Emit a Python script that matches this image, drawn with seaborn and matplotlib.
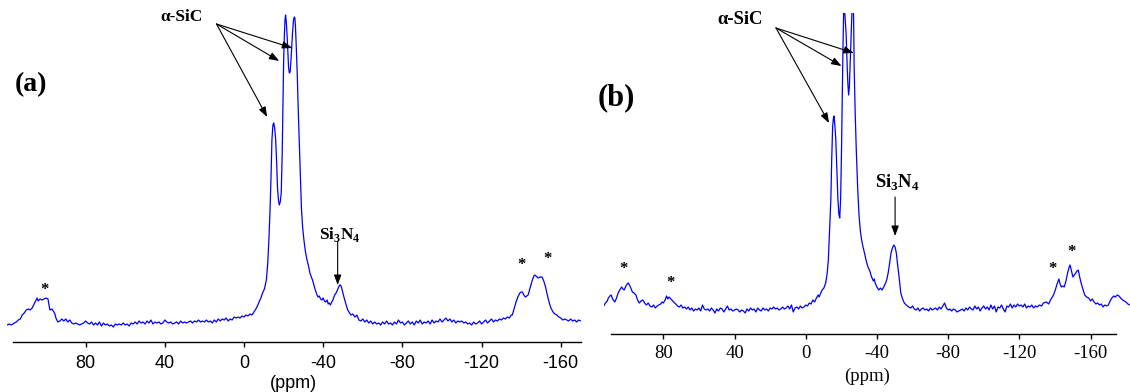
import pandas as pd
import seaborn as sns
import matplotlib.pyplot as plt

# spectrum (a): (ppm, intensity), baseline = 0
spec_a = [
    (119.7, -2), (118.5, -1), (117.5, -2), (116, 0), (115, 1), (114, 3), (113, 4), (112, 8),
    (111, 10), (110, 13), (109, 14), (108, 13), (107, 15), (106, 19), (105, 23), (104.5, 25),
    (104, 22), (103, 24), (102, 23), (101, 24), (100, 25), (99, 24), (98.5, 18), (98, 13),
    (97, 14), (96, 11), (95.5, 9), (95, 5), (94, 1), (93, 2), (92, 4), (91, 2), (90, 4),
    (89, 1), (88, 3), (87, 0), (86, -1), (85, 0), (84, -1), (83, -2), (82, -1), (81, 0),
    (80, 2), (79, 0), (78, -1), (77, 1), (76, -2), (75, 0), (74, -2), (73, 1), (72, -3),
    (71, 0), (70, -2), (69, -1), (68, -3), (67, -2), (66, -4), (65, -1), (64, -2), (63, -1),
    (62, -2), (61, 0), (60, -2), (59, -1), (58, -3), (57, 0), (56, -1), (55, 1), (54, -1),
    (53, 2), (52, 0), (51, 1), (50, -1), (49, 2), (48, 0), (47, 3), (46, -1), (45, 1),
    (44, 0), (43, 1), (42, -1), (41, 0), (40, 3), (39, 1), (38, 0), (37, 1), (36, -1),
    (35, 0), (34, 1), (33, -1), (32, 2), (31, 0), (30, 1), (29, 0), (28, 1), (27, 2),
    (26, 0), (25, 2), (24, 1), (23, 3), (22, 1), (21, 2), (20, 1), (19, 3), (18, 1),
    (17, 2), (16, 0), (15, 3), (14, 1), (13, 4), (12, 2), (11, 4), (10, 3), (9, 5), (8, 2),
    (7, 4), (6, 3), (5, 6), (4, 5), (3, 6), (2, 5), (1, 7), (0, 6), (-1, 8), (-2, 7),
    (-3, 9), (-4, 8), (-5, 11), (-6, 14), (-7, 18), (-7.6, 21), (-8.5, 25), (-9.4, 30),
    (-10.3, 34), (-11.3, 43), (-12, 60), (-12.6, 85), (-13.2, 116), (-13.7, 150),
    (-14.1, 183), (-14.6, 198), (-15, 200), (-15.5, 195), (-16, 183), (-16.5, 160),
    (-16.9, 136), (-17.4, 123), (-17.8, 118), (-18.3, 121), (-18.8, 130), (-19.3, 170),
    (-19.7, 223), (-20, 260), (-20.3, 283), (-20.7, 303), (-21, 308), (-21.4, 300),
    (-21.8, 286), (-22.2, 268), (-22.5, 256), (-22.9, 250), (-23.3, 251), (-23.7, 262),
    (-24, 273), (-24.5, 290), (-25, 303), (-25.4, 306), (-25.7, 305), (-26, 296),
    (-26.4, 276), (-26.9, 248), (-27.4, 213), (-28, 175), (-28.5, 140), (-29, 115),
    (-29.6, 96), (-30.2, 84), (-30.9, 73), (-31.5, 66), (-32.2, 60), (-32.8, 55),
    (-33.3, 50), (-34, 46), (-34.6, 43), (-35.3, 38), (-36, 33), (-36.7, 29), (-37.4, 26),
    (-38, 27), (-38.7, 24), (-39.3, 23), (-40, 25), (-40.6, 22), (-41.2, 21), (-42, 23),
    (-42.5, 19), (-43, 20), (-43.7, 18), (-44.3, 21), (-44.9, 23), (-45.4, 26),
    (-45.8, 28), (-46.5, 30), (-47.2, 33), (-47.8, 36), (-48.3, 38), (-48.7, 38),
    (-49.2, 36), (-49.6, 33), (-50.2, 28), (-50.9, 23), (-51.6, 18), (-52.4, 13),
    (-53, 11), (-54, 8), (-55, 9), (-56, 6), (-57, 8), (-58, 3), (-59, 2), (-60, 4),
    (-61, 1), (-62, 3), (-63, 0), (-64, 2), (-65, -1), (-66, 1), (-67, -1), (-68, 0),
    (-69, -2), (-70, 1), (-71, -1), (-72, 2), (-73, -1), (-74, 0), (-75, -2), (-76, 1),
    (-77, -1), (-78, 3), (-79, 0), (-80, 1), (-81, -2), (-82, 0), (-83, 2), (-84, -1),
    (-85, 1), (-86, -2), (-87, 2), (-88, 0), (-89, 3), (-90, -1), (-91, 1), (-92, 0),
    (-93, 2), (-94, -1), (-95, 3), (-96, 0), (-97, 2), (-98, 1), (-99, 4), (-100, 1),
    (-101, 3), (-102, 5), (-103, 2), (-104, 4), (-105, 1), (-106, 3), (-107, 0), (-108, 2),
    (-109, 1), (-110, 2), (-111, 0), (-112, 1), (-113, -1), (-114, 0), (-115, -2),
    (-116, 1), (-117, -1), (-118, 0), (-119, 2), (-120, -1), (-121, 1), (-122, 3),
    (-123, 0), (-124, 2), (-125, 4), (-126, 1), (-127, 3), (-128, 2), (-129, 4), (-130, 3),
    (-131, 5), (-132, 4), (-133, 6), (-134, 5), (-135, 8), (-135.5, 8), (-136.5, 15),
    (-137.4, 21), (-138.3, 26), (-139.3, 30), (-140, 31), (-140.6, 31), (-141.3, 28),
    (-142.1, 26), (-142.8, 27), (-143.5, 28), (-144.2, 33), (-144.9, 38), (-145.8, 44),
    (-146.7, 48), (-147.5, 47), (-148.6, 45), (-149.5, 46), (-150.5, 46), (-151.4, 42),
    (-152.3, 36), (-153.2, 28), (-154.2, 20), (-155, 15), (-156.1, 11), (-157, 9),
    (-158, 8), (-159, 6), (-160, 5), (-161, 3), (-162, 4), (-163, 3), (-164, 2), (-165, 4),
    (-166, 2), (-167, 3), (-168, 1), (-169, 3), (-170, 2),
]

# spectrum (b)
spec_b = [
    (113.5, 3), (112.5, 6), (111.5, 8), (110.9, 11), (110, 13), (109.3, 14), (108.5, 10),
    (107.3, 7), (106.5, 10), (105.4, 16), (104.5, 19), (103.4, 22), (102.7, 20), (102, 19),
    (101, 23), (100.3, 25), (99.6, 26), (98.5, 22), (97.4, 17), (96.5, 16), (95.4, 14),
    (94.5, 9), (93.5, 6), (92.5, 8), (91.5, 9), (90.5, 6), (89.5, 4), (88.5, 6), (87.5, 3),
    (86.5, 2), (85.5, 4), (84.5, 1), (83.5, 3), (82.5, 4), (81.5, 5), (80.7, 7), (80, 6),
    (79, 9), (78.2, 13), (77.5, 10), (76.8, 12), (76.2, 11), (75.2, 9), (74.2, 7), (73, 5),
    (72, 3), (71, 2), (70, 4), (69, 1), (68, 2), (67, 0), (66, 2), (65, -1), (64, 1),
    (63, -2), (62, 0), (61, -1), (60, 1), (59, -2), (58, 4), (57, 0), (56, -1), (55, 0),
    (54, -2), (53, 1), (52, -1), (51, -4), (50, 0), (49, -2), (48, 1), (47, 0), (46, -3),
    (45, 0), (44, 3), (43, -1), (42, 0), (41, -2), (40, -1), (39, 0), (38, -1), (37, -3),
    (36, -1), (35, -2), (34, -4), (33, 0), (32, -2), (31, 1), (30, -1), (29, 0), (28, -3),
    (27, 1), (26, -1), (25, -2), (24, 1), (23, -1), (22, 0), (21, -2), (20, 1), (19, 0),
    (18, 2), (17, 0), (16, 1), (15, -1), (14, 0), (13, 2), (12, 0), (11, 1), (10, 3),
    (9, 0), (8, 4), (7, -3), (6, 1), (5, 2), (4, 0), (3, 3), (2, 1), (1, 2), (0, 4),
    (-1, 3), (-2, 6), (-3, 5), (-4, 9), (-5, 7), (-6, 11), (-7, 14), (-7.5, 12),
    (-8.2, 15), (-9.2, 19), (-10.2, 21), (-11.2, 26), (-12, 35), (-12.7, 49), (-13.3, 75),
    (-14.1, 109), (-14.6, 150), (-15.1, 182), (-15.5, 190), (-15.9, 193), (-16.4, 183),
    (-16.9, 169), (-17.5, 140), (-18.1, 109), (-18.6, 95), (-19.1, 91), (-19.6, 110),
    (-20.1, 159), (-20.5, 210), (-20.9, 259), (-21.3, 300), (-21.7, 330), (-22.1, 310),
    (-22.7, 275), (-23.3, 242), (-23.7, 224), (-24.1, 214), (-24.5, 222), (-24.9, 242),
    (-25.3, 265), (-25.7, 282), (-26.1, 305), (-26.5, 322), (-26.9, 290), (-27.2, 242),
    (-27.8, 195), (-28.4, 159), (-29.2, 120), (-30, 92), (-30.7, 78), (-31.4, 69),
    (-32.2, 62), (-33, 56), (-34, 48), (-35, 42), (-36, 38), (-37, 32), (-38, 28),
    (-38.5, 30), (-39, 26), (-40, 22), (-41, 19), (-42, 21), (-42.9, 19), (-43.8, 22),
    (-44.9, 26), (-45.6, 30), (-46.3, 36), (-47, 44), (-47.9, 56), (-48.7, 61),
    (-49.5, 64), (-50.2, 62), (-50.9, 56), (-51.5, 46), (-52.2, 36), (-52.8, 26),
    (-53.4, 16), (-54.4, 10), (-55.4, 6), (-56.5, 4), (-57.8, 2), (-59, 1), (-60, 3),
    (-61, 0), (-62, -1), (-63, 1), (-64, -2), (-65, 0), (-66, 1), (-67, -1), (-68, 0),
    (-69, -2), (-70, 1), (-71, -1), (-72, 0), (-73, 1), (-74, -1), (-75, 2), (-76, 0),
    (-77, 3), (-78, 6), (-79, 1), (-80, -1), (-81, 0), (-82, -2), (-83, 0), (-84, -1),
    (-85, -3), (-86, -2), (-87, -1), (-88, 0), (-89, -2), (-90, 1), (-91, -1), (-92, 2),
    (-93, 0), (-94, -1), (-95, 3), (-96, 0), (-97, 2), (-98, -2), (-99, 1), (-100, 3),
    (-101, 0), (-102, 2), (-103, -1), (-104, 4), (-105, 0), (-106, 3), (-107, -3),
    (-108, 2), (-109, 1), (-110, 4), (-111, 0), (-112, -3), (-113, 3), (-114, 2),
    (-115, 5), (-116, 1), (-117, 4), (-118, 2), (-119, 5), (-120, 3), (-121, 4),
    (-122, 2), (-123, 5), (-124, 1), (-125, 3), (-126, 2), (-127, 4), (-128, 1),
    (-129, 3), (-130, 2), (-131.3, 4), (-132.5, 3), (-133.5, 6), (-135.2, 7),
    (-136.5, 5), (-137.5, 9), (-138.2, 11), (-139.2, 14), (-140.2, 19), (-141.2, 25),
    (-142.2, 30), (-142.9, 25), (-143.6, 22), (-144.4, 23), (-145.2, 22), (-146.2, 28),
    (-147.1, 36), (-148, 42), (-148.5, 44), (-149.3, 38), (-150.1, 32), (-150.9, 34),
    (-151.7, 36), (-152.4, 38), (-153.1, 39), (-153.9, 32), (-154.7, 26), (-155.7, 20),
    (-156.7, 14), (-157.8, 12), (-159, 11), (-160, 8), (-161, 10), (-162, 7), (-163, 5),
    (-164, 6), (-165, 4), (-166, 5), (-167, 2), (-168, 4), (-169, 3), (-170, 4),
    (-171, 8), (-172, 11), (-173, 13), (-174, 12), (-174.9, 14), (-176, 13),
    (-176.9, 11), (-178, 9), (-179, 8), (-179.9, 7), (-181, 5), (-181.9, 4),
]

ticks = [80, 40, 0, -40, -80, -120, -160]

# spinning sidebands (*) positions
stars_a = [(100.8, 33), (-140.2, 58), (-153.3, 64)]
stars_b = [(102.6, 40), (76.2, 26), (-138.8, 40), (-149.1, 57)]

# alpha-SiC arrows: text pos, arrow source, arrow targets
sic_a_text = (31.3, 306)
sic_a_src = (13.9, 299)
sic_a_tgt = [(-24.4, 275), (-17.8, 262), (-11.7, 206)]
sic_b_text = (37.0, 289)
sic_b_src = (16.7, 281)
sic_b_tgt = [(-27.0, 256), (-20.1, 243), (-13.1, 186)]

# Si3N4 label: text pos, arrow start, arrow end
si3n4_a = [(-48.5, 88), (-47.3, 81), (-47.3, 38)]
si3n4_b = [(-51.8, 126), (-50.2, 112), (-50.2, 73)]

sns.set_style("white")
plt.rcParams["text.color"] = "black"
plt.rcParams["mathtext.fontset"] = "custom"
plt.rcParams["mathtext.rm"] = "Liberation Serif:bold"
plt.rcParams["mathtext.bf"] = "Liberation Serif:bold"

W, H = 1130, 392
fig = plt.figure(figsize=(W / 100, H / 100), dpi=100)
ax_a = fig.add_axes([7 / W, 1 - 342 / H, 573.6 / W, 334 / H])
ax_b = fig.add_axes([603.7 / W, 1 - 334 / H, 526 / W, 321 / H])


def draw_panel(ax, spec, xlim, ylim, spine_lim, tick_font, tick_size, pad,
               labelpad, stars, sic_text, sic_src, sic_tgt, si3n4, ann_size):
    df = pd.DataFrame(spec, columns=["ppm", "intensity"])
    sns.lineplot(data=df, x="ppm", y="intensity", ax=ax, color="#0000ff",
                 lw=0.9, sort=False, estimator=None)
    ax.set_xlim(*xlim)
    ax.set_ylim(*ylim)
    for s in ["left", "right", "top"]:
        ax.spines[s].set_visible(False)
    ax.spines["bottom"].set_bounds(*spine_lim)
    ax.spines["bottom"].set_color("black")
    ax.spines["bottom"].set_linewidth(1.0)
    ax.set_xticks(ticks)
    ax.set_xticklabels([str(t) for t in ticks])
    ax.set_yticks([])
    ax.set_ylabel("")
    ax.tick_params(axis="x", bottom=True, direction="out", length=3.5, width=1,
                   color="black", pad=pad, labelsize=tick_size,
                   labelfontfamily=tick_font, labelcolor="black")
    ax.set_xlabel("(ppm)", fontsize=tick_size, family=tick_font,
                  labelpad=labelpad, color="black")

    for x, y in stars:
        ax.text(x, y, "*", ha="center", va="center", fontsize=12,
                fontweight="bold", family="Liberation Serif", color="black")

    ax.text(*sic_text, "α-SiC", ha="center", va="center", fontsize=ann_size,
            fontweight="bold", family="Liberation Serif", color="black")
    arrow = dict(arrowstyle="-|>,head_length=0.6,head_width=0.22",
                 color="black", lw=0.8, shrinkA=0, shrinkB=0)
    for tgt in sic_tgt:
        ax.annotate("", xy=tgt, xytext=sic_src, arrowprops=arrow)

    ax.text(*si3n4[0], r"Si$_{\mathrm{3}}$N$_{\mathrm{4}}$", ha="center",
            va="center", fontsize=ann_size, fontweight="bold",
            family="Liberation Serif", color="black")
    ax.annotate("", xy=si3n4[2], xytext=si3n4[1], arrowprops=arrow)


draw_panel(ax_a, spec_a, (119.7, -170), (-19, 315), (116.5, -170),
           "Liberation Sans", 13, 6, 2, stars_a, sic_a_text, sic_a_src,
           sic_a_tgt, si3n4_a, 12.5)
draw_panel(ax_b, spec_b, (113.5, -182), (-25, 296), (109.4, -174.2),
           "Liberation Serif", 13.5, 4.5, 4, stars_b, sic_b_text, sic_b_src,
           sic_b_tgt, si3n4_b, 13.5)

fig.text(31 / W, 1 - 85 / H, "(a)", ha="center", va="center", fontsize=20,
         fontweight="bold", family="Liberation Serif", color="black")
fig.text(616 / W, 1 - 98 / H, "(b)", ha="center", va="center", fontsize=22,
         fontweight="bold", family="Liberation Serif", color="black")

fig.savefig("out.png", dpi=100)
plt.close(fig)
